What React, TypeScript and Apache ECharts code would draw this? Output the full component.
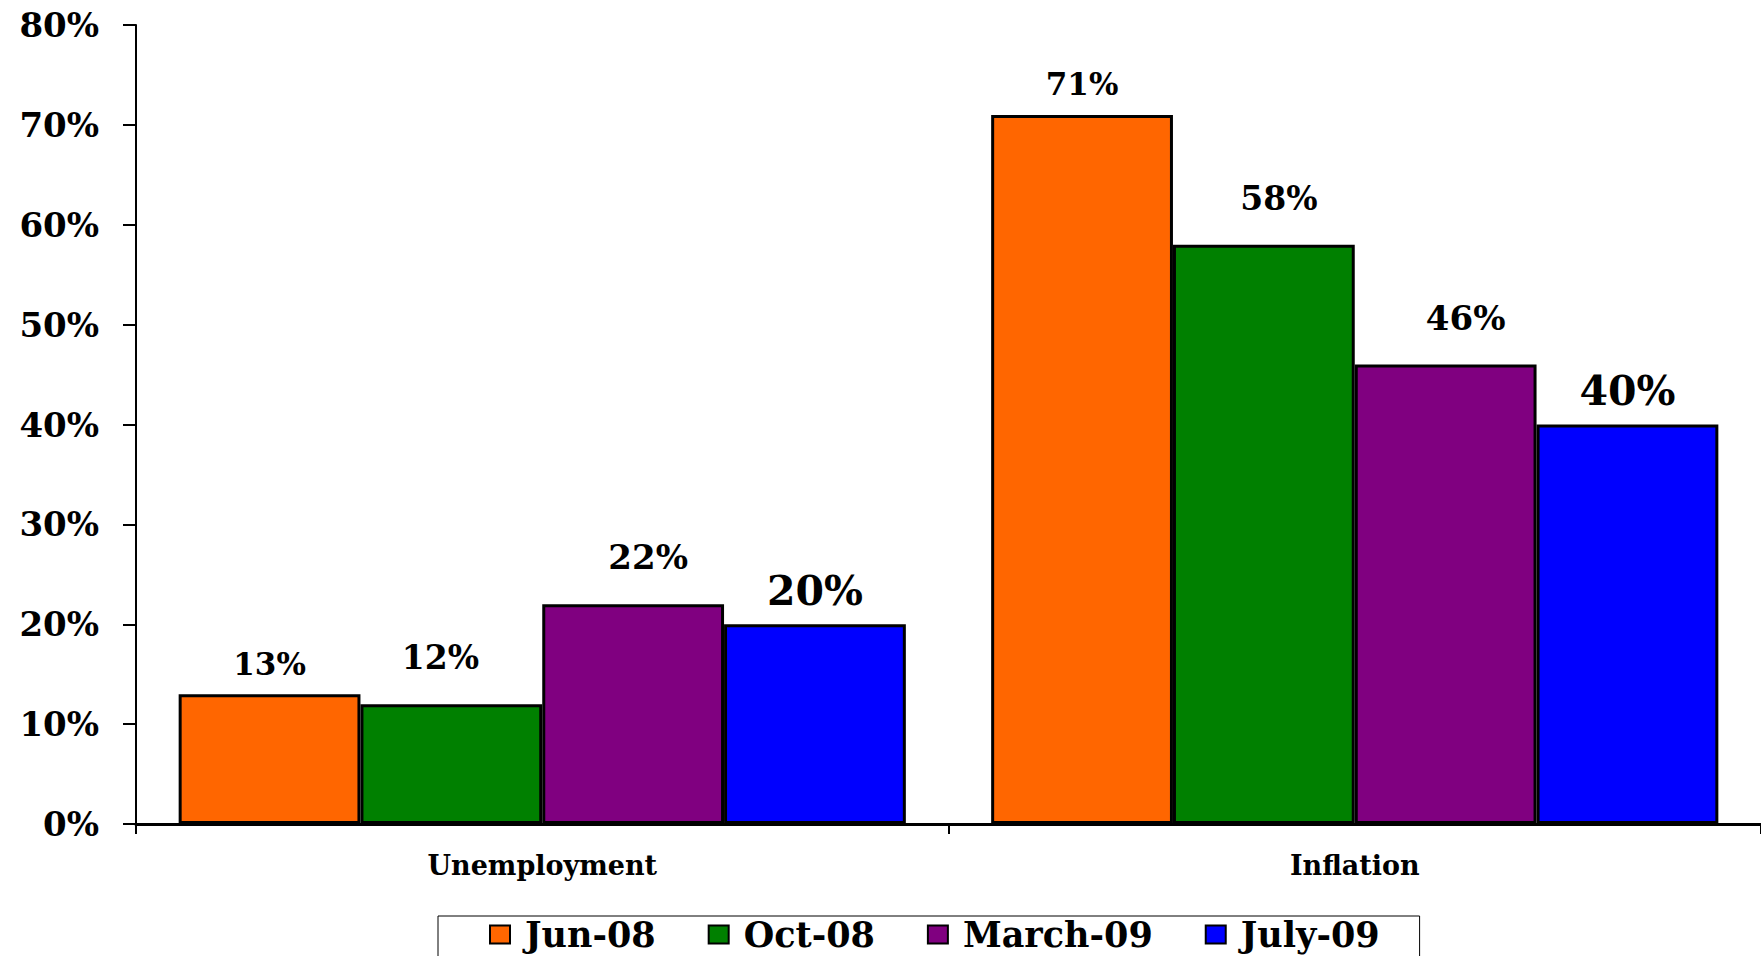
import React, { useEffect, useRef } from "react";
import * as echarts from "echarts";

const categories = ["Unemployment", "Inflation"];
const seriesNames = ["Jun-08", "Oct-08", "March-09", "July-09"];
const jun08 = [13, 71];
const oct08 = [12, 58];
const march09 = [22, 46];
const july09 = [20, 40];
const yMin = 0;
const yMax = 80;
const yStep = 10;

const seriesValues = [jun08, oct08, march09, july09];
const colors = ["#FF6600", "#008000", "#800080", "#0000FF"];
const labelFontSizes = [31, 33, 34, 41];
const labelDistances = [15, 30, 30, 13];
const labelOffsetsX = [
  [0, 0],
  [-11, 15],
  [15, 20],
  [0, 0],
];

const FONT = "'DejaVu Serif', serif";

export default function App() {
  const ref = useRef<HTMLDivElement>(null);
  useEffect(() => {
    if (!ref.current) return;
    const chart = echarts.init(ref.current, null, { renderer: "svg" });
    const series = seriesNames.map((name, si) => ({
      name,
      type: "bar",
      barGap: "0%",
      barCategoryGap: "10.5%",
      itemStyle: { color: colors[si], borderColor: "#000", borderWidth: 3 },
      label: {
        show: true,
        position: "top",
        formatter: "{c}%",
        color: "#000",
        fontFamily: FONT,
        fontWeight: "bold",
        fontSize: labelFontSizes[si],
        distance: labelDistances[si],
      },
      data: seriesValues[si].map((v, ci) => ({
        value: v,
        label: { offset: [labelOffsetsX[si][ci], 0] },
      })),
    }));
    chart.setOption({
      animation: false,
      backgroundColor: "#fff",
      grid: { left: 136, right: -3, top: 25, bottom: 132, containLabel: false },
      legend: {
        data: seriesNames,
        left: 438,
        top: 916,
        orient: "horizontal",
        icon: "rect",
        itemWidth: 20,
        itemHeight: 18,
        itemGap: 52,
        padding: [1, 40, 30, 51],
        borderColor: "#000",
        borderWidth: 1,
        itemStyle: { borderColor: "#000", borderWidth: 2 },
        textStyle: {
          fontFamily: FONT,
          fontWeight: "bold",
          fontSize: 35,
          color: "#000",
          padding: [0, 0, 0, 10],
        },
      },
      xAxis: {
        type: "category",
        data: categories,
        axisLine: { show: true, lineStyle: { color: "#000", width: 3 } },
        axisTick: { show: true, length: 10, lineStyle: { color: "#000", width: 2 } },
        axisLabel: {
          color: "#000",
          fontFamily: FONT,
          fontWeight: "bold",
          fontSize: 27,
          margin: 28,
        },
      },
      yAxis: {
        type: "value",
        min: yMin,
        max: yMax,
        interval: yStep,
        splitLine: { show: false },
        axisLine: { show: true, lineStyle: { color: "#000", width: 2 } },
        axisTick: { show: true, inside: false, length: 13, lineStyle: { color: "#000", width: 2 } },
        axisLabel: {
          formatter: "{value}%",
          color: "#000",
          fontFamily: FONT,
          fontWeight: "bold",
          fontSize: 34,
          margin: 37,
        },
      },
      series,
    });
    return () => chart.dispose();
  }, []);
  return (
    <div
      ref={ref}
      style={{ position: "absolute", left: 0, top: 0, width: 1761, height: 956 }}
    />
  );
}
